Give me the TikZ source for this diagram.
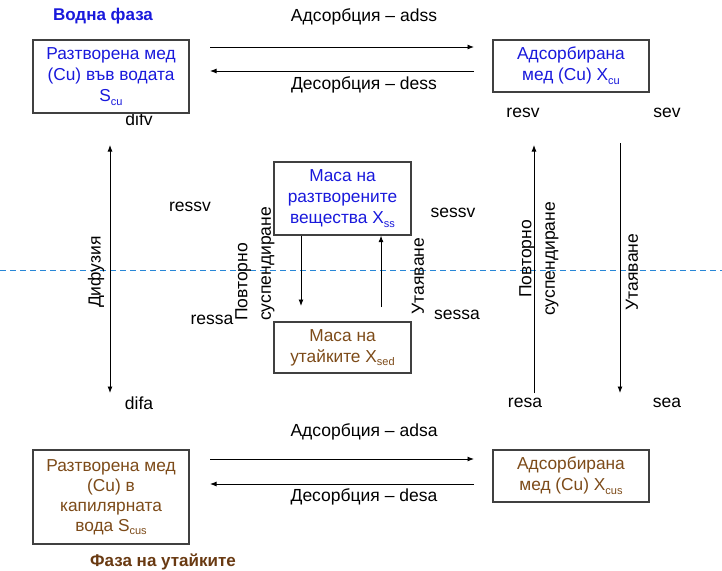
\documentclass[tikz,border=0pt]{standalone}
\usepackage{fontspec}
\setmainfont{Liberation Sans}
\usetikzlibrary{arrows.meta}
\definecolor{tblue}{RGB}{25,25,220}
\definecolor{tbrown}{RGB}{125,75,25}
\definecolor{ttlbrown}{RGB}{105,58,18}
\definecolor{dashblue}{RGB}{40,135,215}
\newcommand{\lowsub}[1]{\raisebox{-0.4ex}{\fontsize{11}{11}\selectfont #1}}
\tikzset{
  box/.style={draw=black!75, line width=1.2pt, fill=white, inner sep=1pt, align=center,
              font=\fontsize{17.3}{21}\selectfont},
  lbl/.style={font=\fontsize{17.5}{23.5}\selectfont, inner sep=0pt},
  ttl/.style={font=\fontsize{17}{19}\selectfont\bfseries, inner sep=0pt},
  arr/.style={-{Latex[length=6.5pt,width=5pt]}, line width=0.9pt},
  darr/.style={{Latex[length=6.5pt,width=5pt]}-{Latex[length=6.5pt,width=5pt]}, line width=0.9pt},
}
\begin{document}
\begin{tikzpicture}[x=1pt,y=-1pt]
\useasboundingbox (0,0) rectangle (722,570);
% dashed phase border
\coordinate (dl) at (0,270);
\coordinate (dr) at (722,270);
\draw[dashblue, dash pattern=on 6pt off 4pt, line width=1pt] (dl) -- (dr);

% labels under boxes
\node[lbl] (difv) at (139,119) {difv};

% boxes
\node[box, text=tblue, minimum width=156pt, minimum height=73pt] (scu) at (111,76.5)
  {Разтворена мед\\(Cu) във водата\\S\lowsub{cu}};
\node[box, text=tblue, minimum width=156pt, minimum height=52pt] (xcu) at (571,66)
  {Адсорбирана\\мед (Cu) X\lowsub{cu}};
\node[box, text=tblue, minimum width=137pt, minimum height=73pt] (xss) at (342.5,198.5)
  {Маса на\\разтворените\\вещества X\lowsub{ss}};
\node[box, text=tbrown, minimum width=137pt, minimum height=51pt] (xsed) at (342.5,347.5)
  {Маса на\\утайките X\lowsub{sed}};
\node[box, text=tbrown, minimum width=156pt, minimum height=94pt, font=\fontsize{17.3}{20}\selectfont] (scus) at (111,497)
  {Разтворена мед\\(Cu) в\\капилярната\\вода S\lowsub{cus}};
\node[box, text=tbrown, minimum width=156pt, minimum height=52pt] (xcus) at (571,476)
  {Адсорбирана\\мед (Cu) X\lowsub{cus}};

% titles
\node[ttl, text=tblue] (t1) at (103,16) {Водна фаза};
\node[ttl, text=ttlbrown] (t2) at (163,562) {Фаза на утайките};

% top horizontal arrows
\coordinate (a1l) at (210,47);  \coordinate (a1r) at (474,47);
\coordinate (a2l) at (210,71);  \coordinate (a2r) at (474,71);
\draw[arr] (a1l) -- (a1r);
\draw[arr] (a2r) -- (a2l);
\node[lbl] (adss) at (364,17) {Адсорбция – adss};
\node[lbl] (dess) at (364,85) {Десорбция – dess};

% bottom horizontal arrows
\coordinate (b1l) at (210,459); \coordinate (b1r) at (474,459);
\coordinate (b2l) at (210,484); \coordinate (b2r) at (474,484);
\draw[arr] (b1l) -- (b1r);
\draw[arr] (b2r) -- (b2l);
\node[lbl] (adsa) at (364,432) {Адсорбция – adsa};
\node[lbl] (desa) at (364,497) {Десорбция – desa};

% left diffusion arrow
\coordinate (dt) at (110,145); \coordinate (db) at (110,393);
\draw[darr] (dt) -- (db);
\node[lbl, rotate=90] (dif) at (96,272) {Дифузия};
\node[lbl] (difa) at (139,403) {difa};

% center arrows
\coordinate (c1b) at (301,306);
\coordinate (c2b) at (381,307);
\draw[arr] (xss.south -| c1b) -- (c1b);
\draw[arr] (c2b) -- (xss.south -| c2b);
\node[lbl, rotate=90, align=left, anchor=west] (resc) at (255,321) {Повторно\\суспендиране};
\node[lbl, rotate=90] (utc) at (418,276) {Утаяване};
\node[lbl] (ressv) at (190,207) {ressv};
\node[lbl] (sessv) at (453,213) {sessv};
\node[lbl] (ressa) at (212,320) {ressa};
\node[lbl] (sessa) at (457,315) {sessa};

% right arrows
\coordinate (rt) at (534,145); \coordinate (rb) at (534,393);
\coordinate (st) at (620,143); \coordinate (sb) at (620,393);
\draw[arr] (rb) -- (rt);
\draw[arr] (st) -- (sb);
\node[lbl, rotate=90, align=center] (resr) at (539,259) {Повторно\\суспендиране};
\node[lbl, rotate=90] (utr) at (632,272) {Утаяване};
\node[lbl] (resv) at (523,113) {resv};
\node[lbl] (sev) at (667,113) {sev};
\node[lbl] (resa) at (525,403) {resa};
\node[lbl] (sea) at (667,403) {sea};
\end{tikzpicture}
\end{document}
